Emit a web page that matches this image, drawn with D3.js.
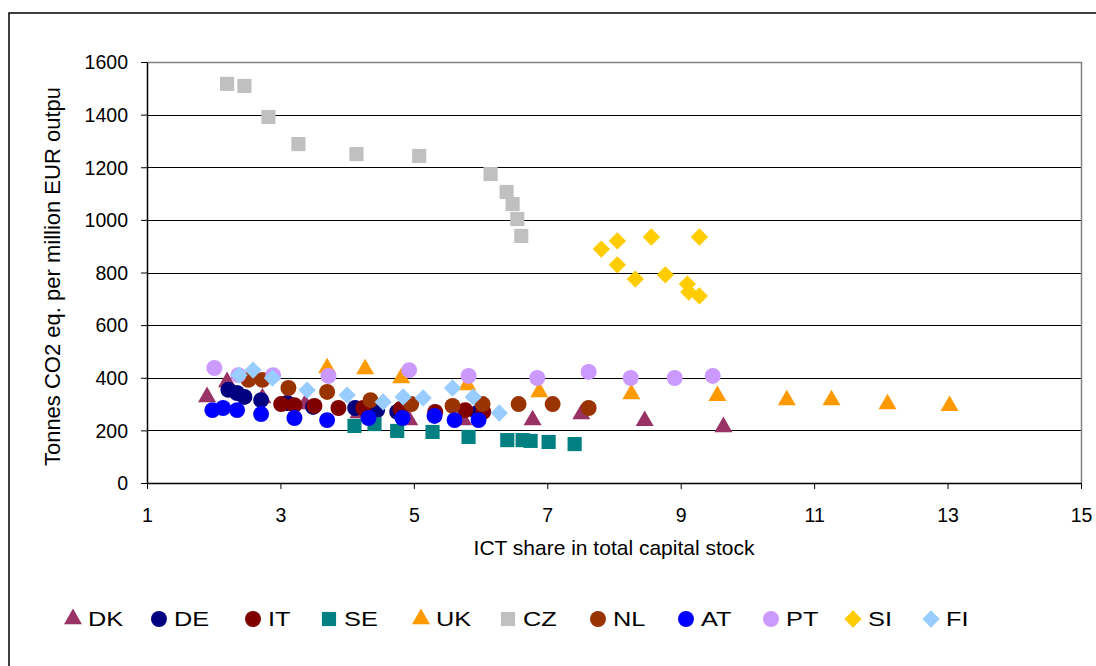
<!DOCTYPE html>
<html>
<head>
<meta charset="utf-8">
<script src="https://cdn.jsdelivr.net/npm/d3@7"></script>
<style>
  body { margin: 0; background: #fff; }
  text { font-family: "Liberation Sans", Arial, sans-serif; fill: #000; }
</style>
</head>
<body>
<div id="chart"></div>
<script>
// series values, [ICT share %, tonnes CO2 eq. per million EUR]
var DK = [[1.90,327],[2.20,384],[2.73,323],[3.37,300],[4.17,266],[4.93,239],[5.74,239],[6.78,239],[7.51,262],[8.46,236],[9.64,213]];
var DE = [[2.22,354],[2.35,342],[2.46,327],[2.71,315],[3.10,304],[3.49,289],[4.12,285],[4.45,277],[4.75,270],[5.95,266]];
var IT = [[3.01,300],[3.21,296],[3.51,293],[3.87,285],[4.24,285],[4.80,281],[5.32,270],[5.77,277],[6.04,270]];
var SE = [[4.11,217],[4.41,224],[4.75,198],[5.28,194],[5.82,175],[6.40,163],[6.63,163],[6.75,160],[7.02,156],[7.41,148]];
var UK = [[3.70,437],[4.27,433],[4.81,399],[5.80,372],[6.88,346],[8.26,338],[9.55,331],[10.59,315],[11.26,315],[12.10,300],[13.03,293]];
var CZ = [[2.20,1517],[2.46,1509],[2.82,1391],[3.27,1288],[4.14,1250],[5.08,1243],[6.15,1174],[6.39,1106],[6.48,1060],[6.55,1003],[6.61,939]];
var NL = [[2.52,392],[2.73,392],[3.12,361],[3.70,346],[4.35,315],[4.96,300],[5.58,293],[6.03,300],[6.57,300],[7.08,300],[7.62,285]];
var AT = [[1.98,277],[2.14,285],[2.35,277],[2.71,262],[3.21,247],[3.70,239],[4.32,247],[4.83,247],[5.31,255],[5.61,239],[5.97,239]];
var PT = [[2.01,437],[2.37,410],[2.89,410],[3.72,407],[4.93,429],[5.82,407],[6.85,399],[7.62,422],[8.25,399],[8.91,399],[9.48,407]];
var SI = [[7.81,889],[8.05,920],[8.56,935],[9.28,935],[8.05,829],[8.32,775],[8.77,791],[9.10,756],[9.12,726],[9.28,711]];
var FI = [[2.38,410],[2.59,429],[2.88,399],[3.40,353],[4.00,334],[4.54,308],[4.84,327],[5.14,323],[5.58,361],[5.89,327],[6.28,266]];

var countries = ["DK","DE","IT","SE","UK","CZ","NL","AT","PT","SI","FI"];
var seriesData = [DK, DE, IT, SE, UK, CZ, NL, AT, PT, SI, FI];
var colors = ["#993366","#000080","#800000","#008080","#FF9900","#C0C0C0","#993300","#0000FF","#CC99FF","#FFCC00","#99CCFF"];
var shapes = ["triangle","circle","circle","square","triangle","square","circle","circle","circle","diamond","diamond"];

var xTicks = [1,3,5,7,9,11,13,15];
var yTicks = [0,200,400,600,800,1000,1200,1400,1600];
var legendX = [73,159,253,329,421,508,598,686,771,853,931];

var W = 1096, H = 666;
var margin = { top: 62, left: 147, right: 15, bottom: 183 };
var width = W - margin.left - margin.right,
    height = H - margin.top - margin.bottom;

var svg = d3.select("#chart").append("svg")
    .attr("width", W)
    .attr("height", H);

// outer chart frame (runs off the right and bottom edges)
svg.append("rect")
  .attr("x", 9).attr("y", 13)
  .attr("width", W + 20).attr("height", H + 20)
  .attr("fill", "none")
  .attr("stroke", "#000")
  .attr("stroke-width", 1.5);

var g = svg.append("g")
  .attr("transform", "translate(" + margin.left + "," + margin.top + ")");

var x = d3.scaleLinear().domain([1,15]).range([0,width]);
var y = d3.scaleLinear().domain([0,1600]).range([height,0]);

// gridlines
g.selectAll(".grid")
  .data(yTicks.filter(function(d){ return d > 0 && d < 1600; }))
  .enter().append("line")
  .attr("x1", 0).attr("x2", width)
  .attr("y1", function(d){ return Math.round(y(d)) + 0.5; })
  .attr("y2", function(d){ return Math.round(y(d)) + 0.5; })
  .attr("stroke", "#000")
  .attr("stroke-width", 1);

// plot area frame, top and right in grey
g.append("path")
  .attr("d", "M0.5,0.5H" + (width + 0.5) + "V" + height)
  .attr("fill", "none")
  .attr("stroke", "#808080")
  .attr("stroke-width", 1.5);

var xAxis = d3.axisBottom(x).tickValues(xTicks).tickSize(6).tickSizeOuter(0);
var yAxis = d3.axisLeft(y).tickValues(yTicks).tickFormat(d3.format("d")).tickSize(6).tickSizeOuter(0);

var gx = g.append("g")
  .attr("transform", "translate(0," + height + ")")
  .call(xAxis);
gx.select(".domain").attr("stroke", "#000").attr("stroke-width", 1.5);
gx.selectAll("text")
  .attr("dy", null).attr("y", 39)
  .style("font-size", "19.5px")
  .style("font-family", "Liberation Sans, Arial, sans-serif");

var gy = g.append("g").call(yAxis);
gy.select(".domain").attr("stroke", "#000").attr("stroke-width", 1.5);
gy.selectAll("text")
  .attr("x", -19).attr("dy", "0.35em")
  .style("font-size", "19.5px")
  .style("font-family", "Liberation Sans, Arial, sans-serif");

// axis titles
svg.append("text")
  .attr("x", margin.left + width / 2)
  .attr("y", 555)
  .attr("text-anchor", "middle")
  .style("font-size", "21px")
  .text("ICT share in total capital stock");

// the y title is cut off at the top in the original
svg.append("clipPath").attr("id", "yclip")
  .append("rect").attr("x", 0).attr("y", 88.5).attr("width", 120).attr("height", 500);

svg.append("g").attr("clip-path", "url(#yclip)")
  .append("text")
  .attr("transform", "translate(60,273.5) rotate(-90)")
  .attr("text-anchor", "middle")
  .style("font-size", "22px")
  .text("Tonnes CO2 eq. per million EUR output");

function symbolPath(shape) {
  if (shape == "circle") return d3.symbol().type(d3.symbolCircle).size(200)();
  if (shape == "square") return d3.symbol().type(d3.symbolSquare).size(200)();
  if (shape == "triangle") return d3.symbol().type(d3.symbolTriangle).size(140)();
  return d3.symbol().type(d3.symbolSquare).size(150)();
}
function rot(shape) { return shape == "diamond" ? " rotate(45)" : ""; }

// points
countries.forEach(function(c, i) {
  g.append("g").attr("class", "series-" + c)
    .selectAll("path")
    .data(seriesData[i])
    .enter().append("path")
    .attr("d", symbolPath(shapes[i]))
    .attr("transform", function(d) {
      return "translate(" + x(d[0]) + "," + y(d[1]) + ")" + rot(shapes[i]);
    })
    .attr("fill", colors[i]);
});

// legend (Excel draws its text a bit wide)
var legend = svg.append("g").attr("transform", "translate(0,619)");
countries.forEach(function(c, i) {
  var item = legend.append("g").attr("transform", "translate(" + legendX[i] + ",0)");
  item.append("path")
    .attr("d", symbolPath(shapes[i]))
    .attr("transform", "translate(0,0)" + rot(shapes[i]))
    .attr("fill", colors[i]);
  item.append("text")
    .attr("transform", "translate(15,0) scale(1.3,1)")
    .attr("dy", "0.36em")
    .style("font-size", "19.5px")
    .text(c);
});
</script>
</body>
</html>
